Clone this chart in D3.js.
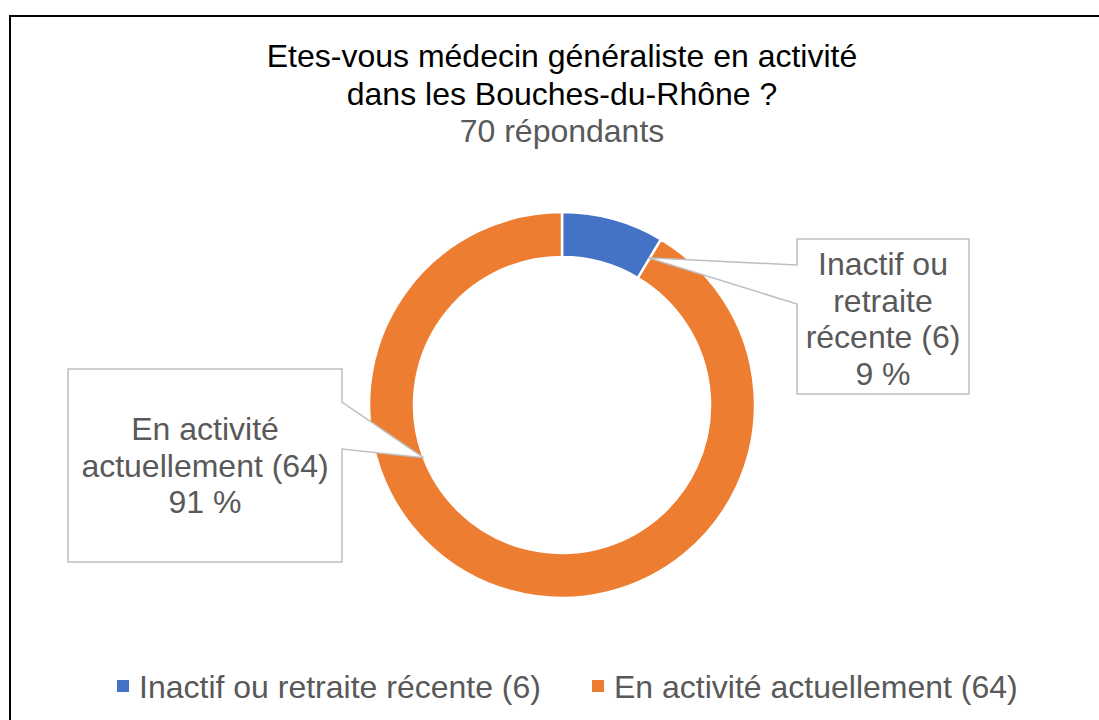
<!DOCTYPE html>
<html>
<head>
<meta charset="utf-8">
<script src="https://cdn.jsdelivr.net/npm/d3@7"></script>
<style>
  body { margin: 0; background: #fff; }
  svg { display: block; font-family: "Liberation Sans", Arial, sans-serif; }
</style>
</head>
<body>
<div id="chart"></div>
<script>
// data
const categories = ['Inactif ou retraite récente (6)', 'En activité actuellement (64)'];
const counts = [6, 64];
const labelLines = [
  ['Inactif ou', 'retraite', 'récente (6)', '9 %'],
  ['En activité', 'actuellement (64)', '91 %']
];
const colors = ['#4472C4', '#ED7D31'];
const titleLines = ['Etes-vous médecin généraliste en activité', 'dans les Bouches-du-Rhône ?'];
const subtitle = '70 répondants';

const W = 1099, H = 720;
const cx = 562, cy = 405;
const outerR = 193, innerR = 148;
const fs = 32;

const svg = d3.select('#chart').append('svg')
  .attr('width', W)
  .attr('height', H);

// chart frame (cut off at right / bottom like the screenshot)
svg.append('rect')
  .attr('x', 10).attr('y', 16)
  .attr('width', W + 20).attr('height', H + 20)
  .attr('fill', '#fff')
  .attr('stroke', '#000')
  .attr('stroke-width', 2);

// title
svg.append('text')
  .attr('text-anchor', 'middle')
  .attr('font-size', fs)
  .attr('fill', '#000')
  .selectAll('tspan')
  .data(titleLines)
  .join('tspan')
  .attr('x', cx)
  .attr('y', (d, i) => 67 + i * 37.5)
  .text(d => d);

svg.append('text')
  .attr('x', cx).attr('y', 142)
  .attr('text-anchor', 'middle')
  .attr('font-size', fs)
  .attr('fill', '#595959')
  .text(subtitle);

// donut
const pie = d3.pie().sort(null).value(d => d);
const arcs = pie(counts);
const arc = d3.arc().innerRadius(innerR).outerRadius(outerR);

const g = svg.append('g').attr('transform', `translate(${cx},${cy})`);
g.selectAll('path')
  .data(arcs)
  .join('path')
  .attr('d', arc)
  .attr('fill', (d, i) => colors[i])
  .attr('stroke', '#fff')
  .attr('stroke-width', 2.5);

// data label callouts
const boxes = [
  { x: 797, y: 239, w: 172, h: 155, side: 'left', w0: 265, w1: 304, base: 275,
    tipAngle: d => d.endAngle - 0.01, tipR: (innerR + outerR) / 2 },
  { x: 68, y: 369, w: 274, h: 193, side: 'right', w0: 402, w1: 449, base: 440,
    tipAngle: d => d.startAngle + 0.663 * (d.endAngle - d.startAngle), tipR: innerR }
];

arcs.forEach((d, i) => {
  const b = boxes[i];
  const p = d3.pointRadial(b.tipAngle(d), b.tipR);
  const tip = [cx + p[0], cy + p[1]];
  let pts;
  if (b.side === 'left') {
    pts = [[b.x, b.y], [b.x + b.w, b.y], [b.x + b.w, b.y + b.h], [b.x, b.y + b.h],
      [b.x, b.w1], tip, [b.x, b.w0]];
  } else {
    pts = [[b.x, b.y], [b.x + b.w, b.y], [b.x + b.w, b.w0], tip, [b.x + b.w, b.w1],
      [b.x + b.w, b.y + b.h], [b.x, b.y + b.h]];
  }
  svg.append('path')
    .attr('d', d3.line()(pts) + 'Z')
    .attr('fill', '#fff')
    .attr('stroke', '#BFBFBF')
    .attr('stroke-width', 1.5);

  svg.append('text')
    .attr('text-anchor', 'middle')
    .attr('font-size', fs)
    .attr('fill', '#595959')
    .selectAll('tspan')
    .data(labelLines[i])
    .join('tspan')
    .attr('x', b.x + b.w / 2)
    .attr('y', (t, j) => b.base + j * 36.7)
    .text(t => t);
});

// legend
const legendX = [117, 592];
const legend = svg.append('g');
categories.forEach((c, i) => {
  legend.append('rect')
    .attr('x', legendX[i]).attr('y', 680)
    .attr('width', 12).attr('height', 12)
    .attr('fill', colors[i]);
  legend.append('text')
    .attr('x', legendX[i] + 22).attr('y', 698)
    .attr('font-size', fs)
    .attr('fill', '#595959')
    .text(c);
});
</script>
</body>
</html>
